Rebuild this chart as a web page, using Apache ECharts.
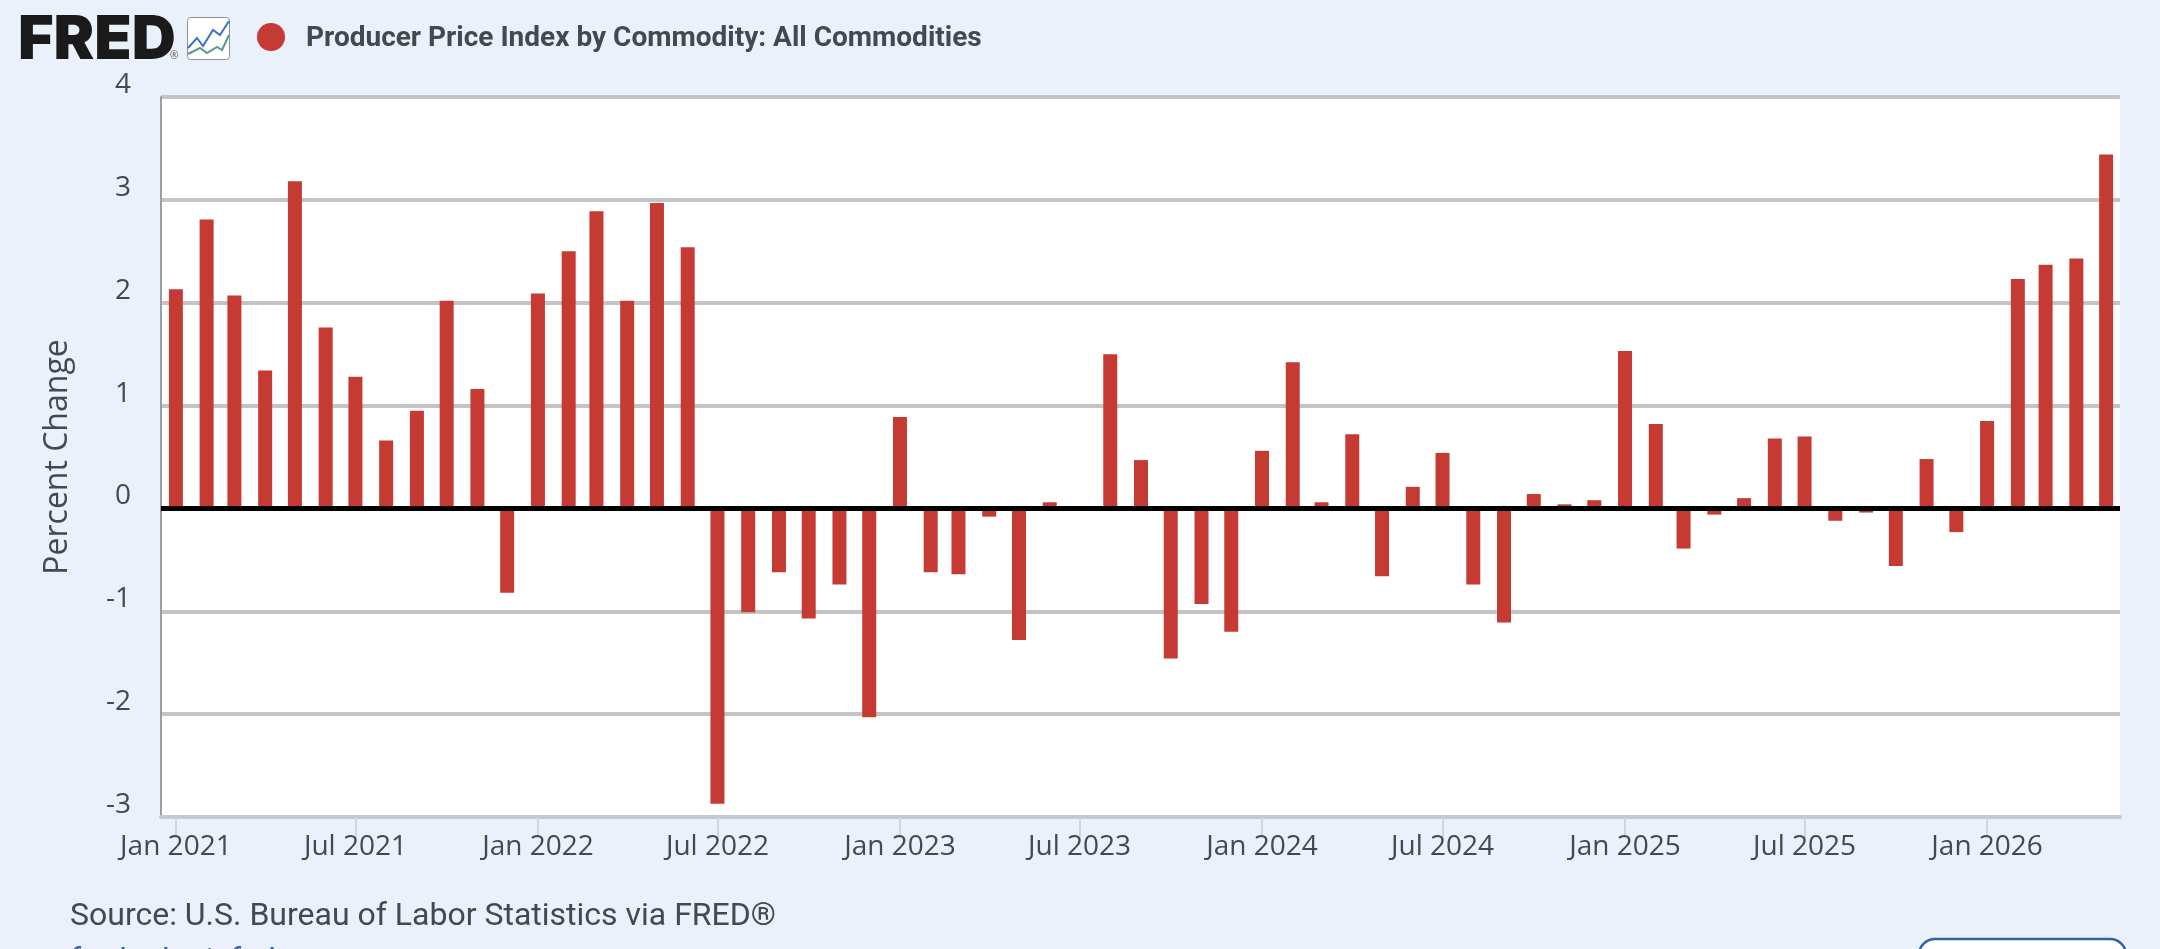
<!DOCTYPE html>
<html>
<head>
<meta charset="utf-8">
<title>Producer Price Index by Commodity: All Commodities</title>
<script src="https://cdn.jsdelivr.net/npm/echarts@6/dist/echarts.min.js"></script>
<style>
  html, body { margin: 0; padding: 0; background: #eaf1fb; overflow: hidden; }
  #chart { width: 2160px; height: 949px; }
</style>
</head>
<body>
<div id="chart"></div>
<script>
// Monthly percent change, January 2021 to May 2026
const months = [
  '2021-01','2021-02','2021-03','2021-04','2021-05','2021-06','2021-07','2021-08','2021-09','2021-10','2021-11','2021-12',
  '2022-01','2022-02','2022-03','2022-04','2022-05','2022-06','2022-07','2022-08','2022-09','2022-10','2022-11','2022-12',
  '2023-01','2023-02','2023-03','2023-04','2023-05','2023-06','2023-07','2023-08','2023-09','2023-10','2023-11','2023-12',
  '2024-01','2024-02','2024-03','2024-04','2024-05','2024-06','2024-07','2024-08','2024-09','2024-10','2024-11','2024-12',
  '2025-01','2025-02','2025-03','2025-04','2025-05','2025-06','2025-07','2025-08','2025-09','2025-10','2025-11','2025-12',
  '2026-01','2026-02','2026-03','2026-04','2026-05'
];
const percentChange = [
  2.13, 2.81, 2.07, 1.34, 3.18, 1.76, 1.28, 0.66, 0.95, 2.02, 1.16, -0.82,
  2.09, 2.50, 2.89, 2.02, 2.97, 2.54, -2.87, -1.01, -0.62, -1.07, -0.74, -2.03,
  0.89, -0.62, -0.64, -0.08, -1.28, 0.06, 0, 1.50, 0.47, -1.46, -0.93, -1.20,
  0.56, 1.42, 0.06, 0.72, -0.66, 0.21, 0.54, -0.74, -1.11, 0.14, 0.04, 0.08,
  1.53, 0.82, -0.39, -0.06, 0.10, 0.68, 0.70, -0.12, -0.04, -0.56, 0.48, -0.23,
  0.85, 2.23, 2.37, 2.43, 3.44
];
const tickMonths = ['2021-01','2021-07','2022-01','2022-07','2023-01','2023-07','2024-01','2024-07','2025-01','2025-07','2026-01'];
const tickLabelText = ['Jan 2021','Jul 2021','Jan 2022','Jul 2022','Jan 2023','Jul 2023','Jan 2024','Jul 2024','Jan 2025','Jul 2025','Jan 2026'];
const seriesTitle = 'Producer Price Index by Commodity: All Commodities';
const sourceNote = 'Source: U.S. Bureau of Labor Statistics via FRED\u00AE';
const yAxisTitle = 'Percent Change';

// The x axis is a linear scale of UTC milliseconds, so month lengths show in the bar spacing.
const monthStart = m => Date.parse(m + '-01T00:00:00Z');
const tickValues = tickMonths.map(monthStart);
const tickLabels = new Map(tickMonths.map((m, i) => [monthStart(m), tickLabelText[i]]));

const TEXT = '#444950';
const RED = '#c53a33';
const GRID = '#c4c4c6';

const chart = echarts.init(document.getElementById('chart'), null, { renderer: 'canvas' });
chart.setOption({
  animation: false,
  backgroundColor: '#eaf1fb',
  grid: {
    left: 161, right: 40, top: 97, bottom: 132,
    show: true, backgroundColor: '#ffffff', borderWidth: 0
  },
  xAxis: {
    type: 'value',
    min: Date.parse('2020-12-17T00:00:00Z'),
    max: Date.parse('2026-05-15T00:00:00Z'),
    position: 'bottom',
    axisLine: { show: true, onZero: false, lineStyle: { color: '#c3c8d1', width: 4 } },
    axisTick: { show: true, length: 21, customValues: tickValues, lineStyle: { color: '#ccd6eb', width: 2 } },
    axisLabel: {
      customValues: tickValues,
      formatter: v => tickLabels.get(v) || '',
      fontFamily: 'Open Sans', fontSize: 28, color: TEXT, margin: 16,
      hideOverlap: false, showMinLabel: true, showMaxLabel: true
    },
    splitLine: { show: false }
  },
  yAxis: {
    type: 'value',
    min: -3, max: 4, interval: 1,
    name: yAxisTitle,
    nameLocation: 'middle',
    nameGap: 87,
    nameTextStyle: { fontFamily: 'Open Sans', fontSize: 32, color: TEXT },
    axisLine: { show: true, onZero: false, lineStyle: { color: '#9a9da3', width: 2 } },
    axisTick: { show: false },
    axisLabel: {
      fontFamily: 'Open Sans', fontSize: 28, color: TEXT, margin: 30,
      verticalAlign: 'bottom', align: 'right', padding: [0, 0, -2, 0]
    },
    splitLine: { show: true, lineStyle: { color: GRID, width: 4, type: 'solid' } }
  },
  series: [{
    type: 'bar',
    name: seriesTitle,
    barWidth: 14,
    itemStyle: { color: RED },
    data: months.map((m, i) => [monthStart(m), percentChange[i]]),
    markLine: {
      silent: true,
      symbol: 'none',
      label: { show: false },
      lineStyle: { color: '#000000', width: 5, type: 'solid' },
      data: [{ yAxis: 0 }]
    }
  }],
  graphic: [
    // FRED wordmark and its small line-graph badge
    { type: 'text', left: 18, top: 10, style: { text: 'FRED', font: '900 61px Inter', fill: '#1a1a1a' } },
    { type: 'text', left: 170, top: 51, style: { text: '\u00AE', font: '10px "Open Sans"', fill: '#555555' } },
    { type: 'rect', shape: { x: 187.5, y: 17.5, width: 42, height: 42, r: 3 }, style: { fill: '#ffffff', stroke: '#8f9296', lineWidth: 1 } },
    { type: 'polyline', shape: { points: [[188, 48], [197, 38], [203, 46], [213, 30], [220, 35], [229, 21]] }, style: { fill: 'none', stroke: '#3e73c4', lineWidth: 2 } },
    { type: 'polyline', shape: { points: [[188, 54], [200, 48], [207, 53], [217, 47], [222, 50], [229, 35]] }, style: { fill: 'none', stroke: '#5c9a8b', lineWidth: 2 } },
    // Series key
    { type: 'circle', shape: { cx: 271, cy: 37, r: 14 }, style: { fill: RED } },
    { type: 'text', left: 306, top: 25, style: { text: seriesTitle, font: 'bold 28px Roboto', fill: TEXT } },
    // Footer
    { type: 'text', left: 70, top: 901, style: { text: sourceNote, font: '32px Roboto', fill: TEXT } },
    { type: 'text', left: 70, top: 946, style: { text: 'fred.stlouisfed.org', font: '32px Roboto', fill: '#2f62a8' } },
    { type: 'rect', shape: { x: 1919, y: 939, width: 207, height: 50, r: 16 }, style: { fill: '#ffffff', stroke: '#2f62a8', lineWidth: 2.5 } }
  ]
});
</script>
</body>
</html>
